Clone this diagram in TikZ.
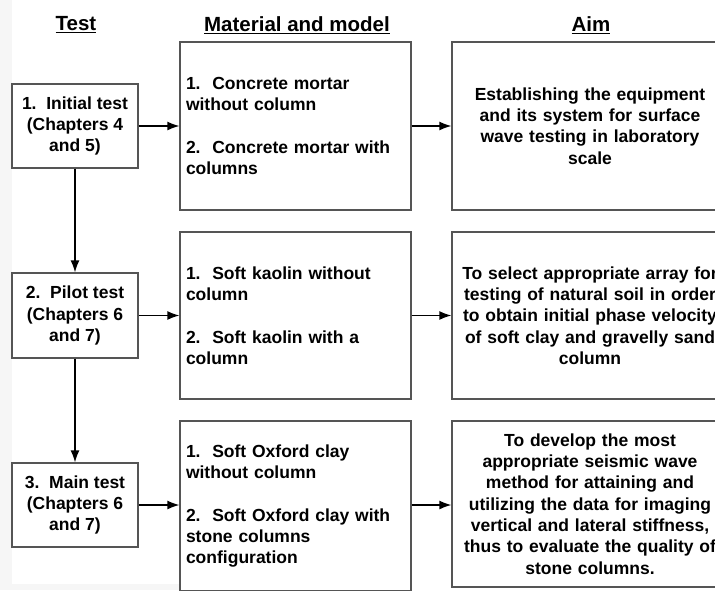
\documentclass[tikz,border=0pt]{standalone}
\usepackage{fontspec}
\setmainfont{Liberation Sans}
\usetikzlibrary{arrows.meta}
\definecolor{boxline}{HTML}{555555}
\definecolor{faint}{HTML}{F6F6F6}
\tikzset{
  base/.style={draw=boxline, line width=1.3pt, rectangle, inner sep=6pt,
    font=\bfseries\fontsize{17.5}{21.3}\selectfont},
  testbox/.style={base, minimum width=126pt, align=center},
  matbox/.style={base, minimum width=231pt, text width=219pt, align=left},
  aimbox/.style={base, minimum width=276pt, text width=264pt, align=center},
  header/.style={font=\bfseries\fontsize{20.5}{24}\selectfont, inner sep=0pt},
  conn/.style={line width=1.3pt, -{Latex[length=12pt,width=9pt]}}
}
\begin{document}
\begin{tikzpicture}[x=1pt,y=-1pt]
\useasboundingbox (0,0) rectangle (715,590);
\fill[white] (0,0) rectangle (715,590);
\fill[faint] (0,0) rectangle (12,590);
\fill[faint] (0,584) rectangle (180,590);

\node[header] (h1) at (76,25) {\underline{Test}};
\node[header] (h2) at (297,25) {\underline{Material and model}};
\node[header] (h3) at (591,25) {\underline{Aim}};

\node[testbox, minimum height=84pt] (t1) at (75,126) {1.\ \ Initial test\\(Chapters 4\\and 5)};
\node[testbox, minimum height=85pt] (t2) at (75,315.5) {2.\ \ Pilot test\\(Chapters 6\\and 7)};
\node[testbox, minimum height=84pt] (t3) at (75,505) {3.\ \ Main test\\(Chapters 6\\and 7)};

\node[matbox, minimum height=168pt] (m1) at (295.5,126) {1.\ \ Concrete mortar\\without column\\[21.3pt]2.\ \ Concrete mortar with\\columns};
\node[matbox, minimum height=167pt] (m2) at (295.5,315.5) {1.\ \ Soft kaolin without\\column\\[21.3pt]2.\ \ Soft kaolin with a\\column};
\node[matbox, minimum height=170pt] (m3) at (295.5,506) {1.\ \ Soft Oxford clay\\without column\\[21.3pt]2.\ \ Soft Oxford clay with\\stone columns\\configuration};

\node[aimbox, minimum height=168pt] (a1) at (590,126) {Establishing the equipment\\and its system for surface\\wave testing in laboratory\\scale};
\node[aimbox, minimum height=167pt] (a2) at (590,315.5) {To select appropriate array for\\testing of natural soil in order\\to obtain initial phase velocity\\of soft clay and gravelly sand\\column};
\node[aimbox, minimum height=166pt] (a3) at (590,504) {To develop the most\\appropriate seismic wave\\method for attaining and\\utilizing the data for imaging\\vertical and lateral stiffness,\\thus to evaluate the quality of\\stone columns.};

\draw[conn] (t1.east) -- (m1.west |- t1.east);
\draw[conn] (t2.east) -- (m2.west |- t2.east);
\draw[conn] (t3.east) -- (m3.west |- t3.east);
\draw[conn] (m1.east) -- (a1.west |- m1.east);
\draw[conn] (m2.east) -- (a2.west |- m2.east);
\draw[conn] (m3.east |- t3.east) -- (a3.west |- t3.east);
\draw[conn] (t1.south) -- (t2.north);
\draw[conn] (t2.south) -- (t3.north);
\end{tikzpicture}
\end{document}
